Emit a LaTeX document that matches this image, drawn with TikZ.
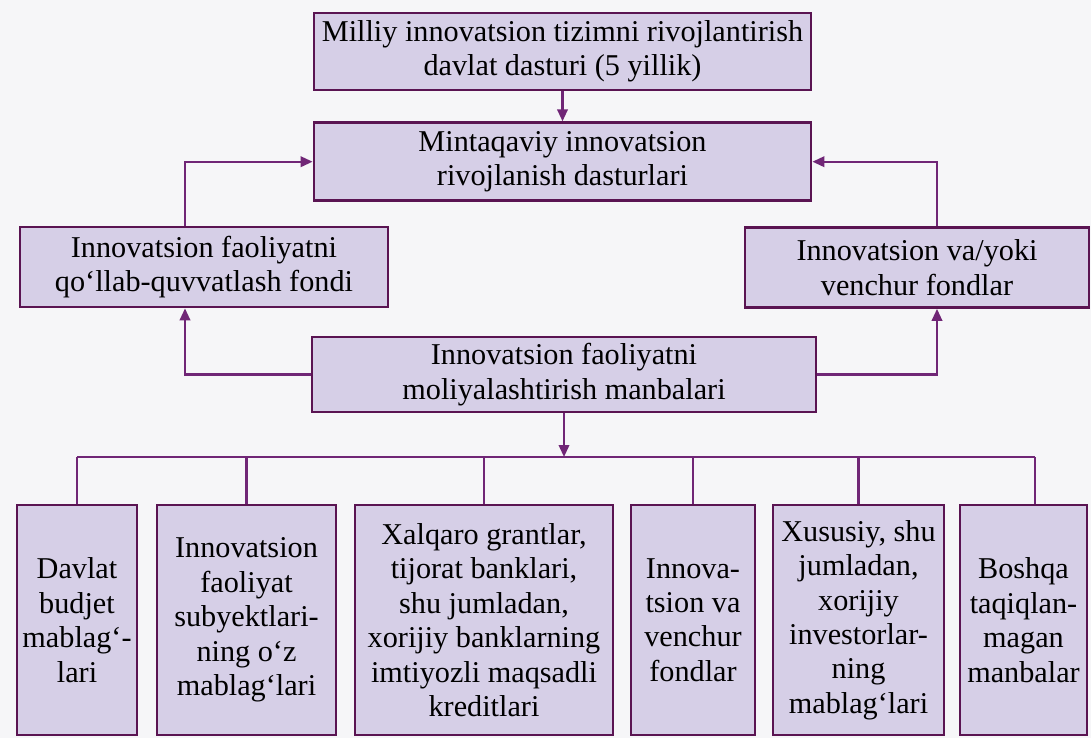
\documentclass[tikz,border=0pt]{standalone}
\usepackage{fontspec}
\setmainfont{Liberation Serif}
\usetikzlibrary{positioning,arrows.meta}
\definecolor{paper}{HTML}{F6F6F8}
\definecolor{lav}{HTML}{D6CFE7}
\definecolor{rim}{HTML}{5A1452}
\definecolor{wire}{HTML}{702676}
\tikzset{
  blk/.style={draw=rim, line width=1.9pt, fill=lav, inner sep=2pt, align=center},
  wr/.style={draw=wire, line width=1.7pt},
  arr/.style={wr, -{Triangle[length=3mm, width=2.6mm]}}}

\begin{document}
\begin{tikzpicture}[x=0.025cm, y=-0.025cm, font=\fontsize{21.5}{24.5}\selectfont]
\fill[paper] (0,0) rectangle (1091,738);
\useasboundingbox (0,0) rectangle (1091,738);
% upper part
\node[blk, minimum width=124.25mm, minimum height=19.25mm] (dastur) at (562.5,51.5) {Milliy innovatsion tizimni rivojlantirish\\davlat dasturi (5 yillik)};
\node[blk, minimum width=124.25mm, minimum height=19.5mm, below=7.5mm of dastur] (mint) {Mintaqaviy innovatsion\\rivojlanish dasturlari};
\node[blk, minimum width=92mm, minimum height=20mm] (fond) at (204,267) {Innovatsion faoliyatni\\qo‘llab-quvvatlash fondi};
\node[blk, minimum width=86mm, minimum height=20mm] (venchur) at (917,267.5) {Innovatsion va/yoki\\venchur fondlar};
\node[blk, minimum width=126mm, minimum height=18.75mm] (manba) at (564,374.5) {Innovatsion faoliyatni\\moliyalashtirish manbalari};
% sources
\node[blk, minimum width=30mm, minimum height=57.5mm] (b1) at (77,620) {Davlat\\budjet\\mablag‘-\\lari};
\node[blk, minimum width=44.75mm, minimum height=57.5mm] (b2) at (246.5,620) {Innovatsion\\faoliyat\\subyektlari-\\ning o‘z\\mablag‘lari};
\node[blk, minimum width=64.5mm, minimum height=57.5mm] (b3) at (484,620) {Xalqaro grantlar,\\tijorat banklari,\\shu jumladan,\\xorijiy banklarning\\imtiyozli maqsadli\\kreditlari};
\node[blk, minimum width=31mm, minimum height=57.5mm] (b4) at (693,620) {Innova-\\tsion va\\venchur\\fondlar};
\node[blk, minimum width=42.75mm, minimum height=57.5mm] (b5) at (858.5,620) {Xususiy, shu\\jumladan,\\xorijiy\\investorlar-\\ning\\mablag‘lari};
\node[blk, minimum width=31.75mm, minimum height=57.5mm] (b6) at (1023.5,620) {Boshqa\\taqiqlan-\\magan\\manbalar};
\coordinate (bus) at (564,457);
% connectors
\draw[arr] (dastur) -- (mint);
\draw[arr] ([xshift=-4.75mm]fond.north) |- (mint.west);
\draw[arr] ([xshift=5mm]venchur.north) |- (mint.east);
\draw[arr] (manba.west) -| ([xshift=-4.75mm]fond.south);
\draw[arr] (manba.east) -| ([xshift=5mm]venchur.south);
\draw[arr] (manba.south) -- (bus);
\draw[wr] (b1.north |- bus) -- ([xshift=2.9mm]b6.north |- bus);
\foreach \b in {b1,b2,b3,b4,b5}
  \draw[wr] (\b.north |- bus) -- (\b.north);
\draw[wr] ([xshift=2.9mm]b6.north |- bus) -- ([xshift=2.9mm]b6.north);
\end{tikzpicture}
\end{document}
